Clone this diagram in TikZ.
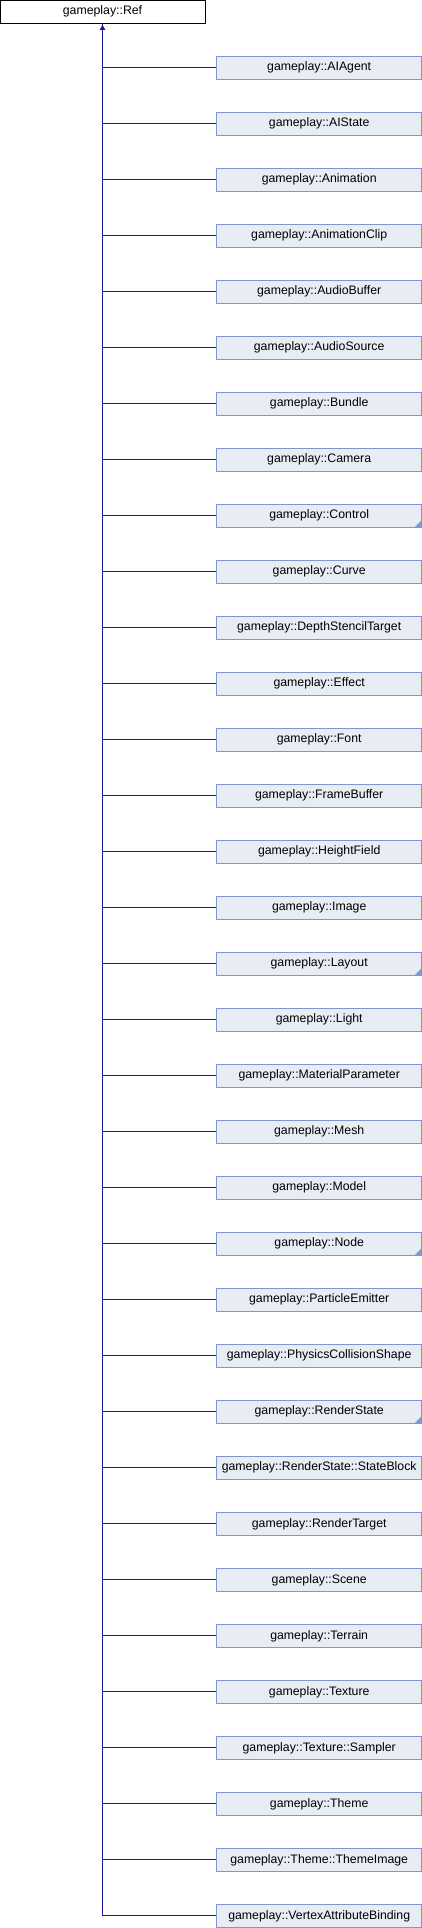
\documentclass[tikz,border=0pt]{standalone}
\usepackage{fontspec}
\setmainfont{Liberation Sans}
\usepackage{tikz}
\usetikzlibrary{positioning, arrows.meta}

\definecolor{linkblue}{RGB}{25,25,150}
\definecolor{clsfill}{RGB}{232,236,244}
\definecolor{clsdraw}{RGB}{127,151,203}

\tikzset{
	base/.style={draw=black, fill=white, line width=1pt, minimum width=205pt,
		minimum height=23.3pt, inner sep=0pt, font=\fontsize{12.3}{14}\selectfont},
	cls/.style={draw=clsdraw, fill=clsfill, line width=1pt, minimum width=205pt,
		minimum height=22.7pt, inner sep=0pt, font=\fontsize{12.3}{14}\selectfont},
	folded/.style={cls, path picture={
		\fill[clsdraw] (path picture bounding box.south east) -- ++(-7pt,0pt) -- ++(7pt,7pt) -- cycle;}},
	inherit/.style={every edge/.style={draw=linkblue, line width=1.2pt, to path={|- (\tikztotarget)}}}
}

\begin{document}
\begin{tikzpicture}[node distance=56pt,on grid]
		\useasboundingbox (0pt,0pt) rectangle (422pt,-1928pt);

		\node[base] 	(ref) 		at (102.5pt,-11.65pt) 	{gameplay::Ref};

		\node[cls] 		(aiagent) 	at (319.2pt,-67.8pt) 	{gameplay::AIAgent};
		\node[cls] 		(aistate) 	[below=of aiagent] 		{gameplay::AIState};
		\node[cls] 		(anim) 		[below=of aistate] 		{gameplay::Animation};
		\node[cls] 		(animclip) 	[below=of anim] 		{gameplay::AnimationClip};
		\node[cls] 		(audiobuf) 	[below=of animclip] 	{gameplay::AudioBuffer};
		\node[cls] 		(audiosrc) 	[below=of audiobuf] 	{gameplay::AudioSource};
		\node[cls] 		(bundle) 	[below=of audiosrc] 	{gameplay::Bundle};
		\node[cls] 		(camera) 	[below=of bundle] 		{gameplay::Camera};
		\node[folded] 	(control) 	[below=of camera] 		{gameplay::Control};
		\node[cls] 		(curve) 	[below=of control] 		{gameplay::Curve};
		\node[cls] 		(depth) 	[below=of curve] 		{gameplay::DepthStencilTarget};
		\node[cls] 		(effect) 	[below=of depth] 		{gameplay::Effect};
		\node[cls] 		(font) 		[below=of effect] 		{gameplay::Font};
		\node[cls] 		(framebuf) 	[below=of font] 		{gameplay::FrameBuffer};
		\node[cls] 		(height) 	[below=of framebuf] 	{gameplay::HeightField};
		\node[cls] 		(image) 	[below=of height] 		{gameplay::Image};
		\node[folded] 	(layout) 	[below=of image] 		{gameplay::Layout};
		\node[cls] 		(light) 	[below=of layout] 		{gameplay::Light};
		\node[cls] 		(matparam) 	[below=of light] 		{gameplay::MaterialParameter};
		\node[cls] 		(mesh) 		[below=of matparam] 	{gameplay::Mesh};
		\node[cls] 		(model) 	[below=of mesh] 		{gameplay::Model};
		\node[folded] 	(node) 		[below=of model] 		{gameplay::Node};
		\node[cls] 		(emitter) 	[below=of node] 		{gameplay::ParticleEmitter};
		\node[cls] 		(physshape) [below=of emitter] 		{gameplay::PhysicsCollisionShape};
		\node[folded] 	(rstate) 	[below=of physshape] 	{gameplay::RenderState};
		\node[cls] 		(sblock) 	[below=of rstate] 		{gameplay::RenderState::StateBlock};
		\node[cls] 		(rtarget) 	[below=of sblock] 		{gameplay::RenderTarget};
		\node[cls] 		(scene) 	[below=of rtarget] 		{gameplay::Scene};
		\node[cls] 		(terrain) 	[below=of scene] 		{gameplay::Terrain};
		\node[cls] 		(texture) 	[below=of terrain] 		{gameplay::Texture};
		\node[cls] 		(sampler) 	[below=of texture] 		{gameplay::Texture::Sampler};
		\node[cls] 		(theme) 	[below=of sampler] 		{gameplay::Theme};
		\node[cls] 		(themeimg) 	[below=of theme] 		{gameplay::Theme::ThemeImage};
		\node[cls] 		(vab) 		[below=of themeimg] 	{gameplay::VertexAttributeBinding};

		% inheritance lines
		\path[inherit]
			(ref.south) edge (aiagent.west)  edge (aistate.west)  edge (anim.west)
						edge (animclip.west) edge (audiobuf.west) edge (audiosrc.west)
						edge (bundle.west)   edge (camera.west)   edge (control.west)
						edge (curve.west)    edge (depth.west)    edge (effect.west)
						edge (font.west)     edge (framebuf.west) edge (height.west)
						edge (image.west)    edge (layout.west)   edge (light.west)
						edge (matparam.west) edge (mesh.west)     edge (model.west)
						edge (node.west)     edge (emitter.west)  edge (physshape.west)
						edge (rstate.west)   edge (sblock.west)   edge (rtarget.west)
						edge (scene.west)    edge (terrain.west)  edge (texture.west)
						edge (sampler.west)  edge (theme.west)    edge (themeimg.west)
						edge (vab.west);
		\draw[draw=linkblue, line width=1.2pt, -{Latex[length=6pt,width=6pt]}] (vab.west) -| (ref.south);
	\end{tikzpicture}
\end{document}
